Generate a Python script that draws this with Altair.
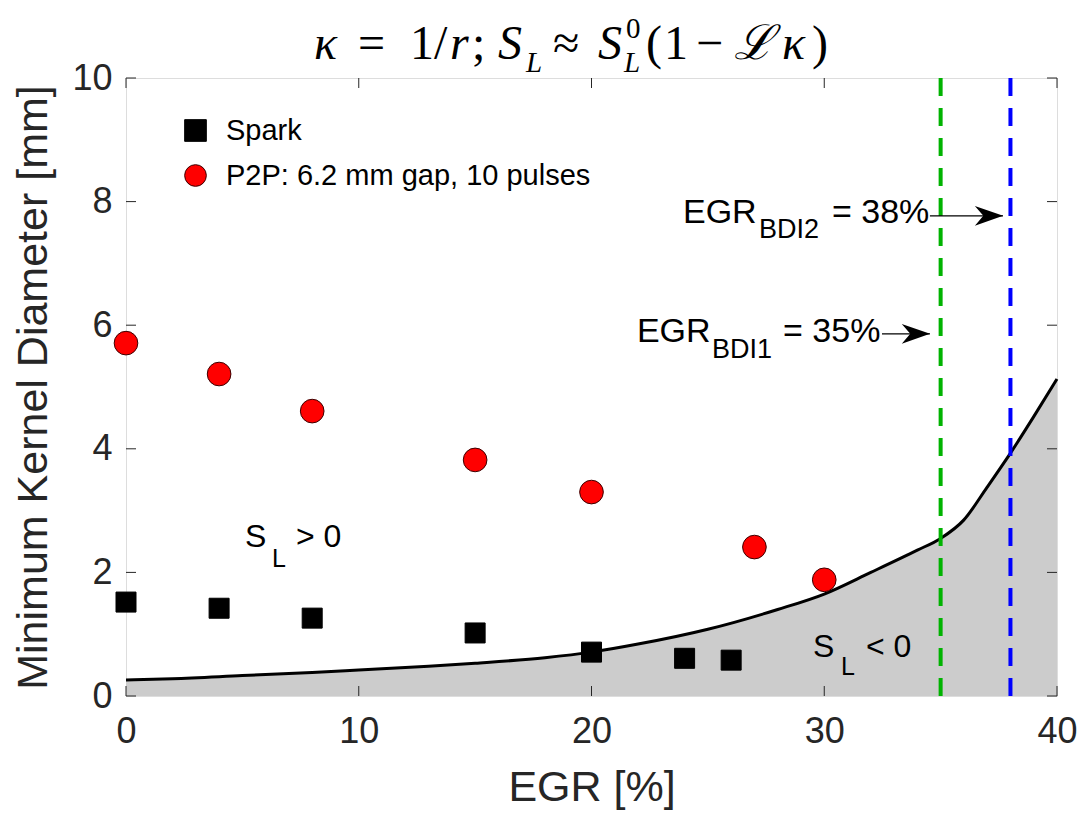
import altair as alt
import pandas as pd

# ---------------- data ----------------
spark_egr = [0, 4, 8, 15, 20, 24, 26]
spark_d = [1.52, 1.42, 1.26, 1.02, 0.71, 0.61, 0.58]

p2p_egr = [0, 4, 8, 15, 20, 27, 30]
p2p_d = [5.71, 5.21, 4.61, 3.82, 3.30, 2.41, 1.88]

curve_egr = [0, 2, 5, 8, 10, 13, 15, 18, 20, 22, 25, 28, 30, 32, 34, 35, 36, 37, 38, 39, 40]
curve_d = [0.26, 0.28, 0.33, 0.38, 0.42, 0.48, 0.53, 0.62, 0.71, 0.84, 1.08, 1.40, 1.65, 2.00, 2.36, 2.55, 2.85, 3.38, 3.93, 4.52, 5.13]

series_names = ["Spark", "P2P: 6.2 mm gap, 10 pulses"]

bdi_egr = [35, 38]
bdi_colors = ["#00b300", "#0000ff"]

x_ticks = [0, 10, 20, 30, 40]
y_ticks = [0, 2, 4, 6, 8, 10]

# annotation texts (anchor in data units)
ann_text = ["EGR", "BDI2", "= 38%", "EGR", "BDI1", "= 35%", "S", "L", "> 0", "S", "L", "< 0"]
ann_x = [23.93, 27.20, 30.33, 21.95, 25.18, 28.23, 5.11, 6.27, 7.30, 29.52, 30.72, 31.79]
ann_y = [7.65, 7.41, 7.65, 5.73, 5.47, 5.73, 2.41, 2.09, 2.41, 0.63, 0.34, 0.63]
ann_size = [34, 27, 34, 34, 27, 34, 32, 25, 32, 32, 25, 32]

# arrows (data units)
arrow_x1 = [34.54, 32.48]
arrow_x2 = [37.68, 34.54]
arrow_y = [7.77, 5.86]

# title pieces (pixel layout of the formula)
title_norm_text = ["=", "1/", ";", "≈", "(", "1", "−", ")"]
title_norm_x = [358, 410, 472, 553, 646, 664, 696, 812]
title_ital_text = ["κ", "r", "S", "S", "ℒ", "κ"]
title_ital_x = [314, 450, 498, 598, 734, 782]
title_sub_text = ["L", "L"]
title_sub_x = [526, 624]
title_sup_text = ["0"]
title_sup_x = [626]

W, H = 931, 618
FONT = "Liberation Sans"
AX = "#262626"

# ---------------- frames ----------------
pts = pd.DataFrame({
    "egr": spark_egr + p2p_egr,
    "d": spark_d + p2p_d,
    "series": [series_names[0]] * len(spark_egr) + [series_names[1]] * len(p2p_egr),
})
curve = pd.DataFrame({"egr": curve_egr, "d": curve_d})
bdi = pd.DataFrame({"egr": bdi_egr, "c": bdi_colors})
ann = pd.DataFrame({"t": ann_text, "x": ann_x, "y": ann_y, "s": ann_size})
arr = pd.DataFrame({"x1": arrow_x1, "x2": arrow_x2, "y": arrow_y})
xt = pd.DataFrame({"v": x_ticks})
yt = pd.DataFrame({"v": y_ticks})

xs = alt.Scale(domain=[0, 40], nice=False, zero=False)
ys = alt.Scale(domain=[0, 10], nice=False, zero=False)

x_axis = alt.Axis(values=x_ticks, grid=False, domain=False, ticks=False, format="d", labelFlush=False,
                  labelFont=FONT, labelFontSize=36, labelColor=AX, labelPadding=18,
                  title="EGR [%]", titleFont=FONT, titleFontSize=43, titleFontWeight="normal",
                  titleColor=AX, titlePadding=17)
y_axis = alt.Axis(values=y_ticks, grid=False, domain=False, ticks=False, format="d", labelFlush=False,
                  labelFont=FONT, labelFontSize=36, labelColor=AX, labelPadding=14,
                  title="Minimum Kernel Diameter [mm]", titleFont=FONT, titleFontSize=43,
                  titleFontWeight="normal", titleColor=AX, titlePadding=16)

area = alt.Chart(curve).mark_area(color="#cccccc", interpolate="monotone", opacity=1).encode(
    x=alt.X("egr:Q", scale=xs, axis=x_axis),
    y=alt.Y("d:Q", scale=ys, axis=y_axis),
)
line = alt.Chart(curve).mark_line(color="black", strokeWidth=3, interpolate="monotone").encode(
    x=alt.X("egr:Q", scale=xs), y=alt.Y("d:Q", scale=ys)
)
vlines = alt.Chart(bdi).mark_rule(strokeWidth=4, strokeDash=[18, 12]).encode(
    x=alt.X("egr:Q", scale=xs),
    y=alt.value(0), y2=alt.value(H),
    color=alt.Color("c:N", scale=None),
)

legend = alt.Legend(title=None, orient="none", legendX=55, legendY=38,
                    labelFont=FONT, labelFontSize=29, labelColor="black", labelLimit=600,
                    symbolSize=470, symbolStrokeWidth=1, rowPadding=15, labelOffset=16,
                    padding=0)
fill_enc = alt.Fill("series:N", scale=alt.Scale(domain=series_names, range=["black", "#ff0000"]), legend=legend)
stroke_enc = alt.Stroke("series:N", scale=alt.Scale(domain=series_names, range=["black", "#3a0000"]), legend=legend)
shape_enc = alt.Shape("series:N", scale=alt.Scale(domain=series_names, range=["square", "circle"]), legend=legend)

base_pts = alt.Chart(pts).encode(
    x=alt.X("egr:Q", scale=xs), y=alt.Y("d:Q", scale=ys),
    fill=fill_enc, stroke=stroke_enc, shape=shape_enc,
)
spark_layer = base_pts.transform_filter(alt.datum.series == series_names[0]).mark_point(
    filled=True, size=400, strokeWidth=1, opacity=1)
p2p_layer = base_pts.transform_filter(alt.datum.series == series_names[1]).mark_point(
    filled=True, size=560, strokeWidth=1, opacity=1)

texts = alt.Chart(ann).mark_text(align="left", baseline="alphabetic", font=FONT, color="black").encode(
    x=alt.X("x:Q", scale=xs), y=alt.Y("y:Q", scale=ys), text="t:N", size=alt.Size("s:Q", scale=None)
)
arrow_lines = alt.Chart(arr).mark_rule(color="black", strokeWidth=1.3).encode(
    x=alt.X("x1:Q", scale=xs), x2="x2:Q", y=alt.Y("y:Q", scale=ys)
)
arrow_heads = alt.Chart(arr).mark_point(
    shape="M1,0 L-1,-0.7 L-0.4,0 L-1,0.7 Z", size=800, filled=True, color="black", opacity=1, xOffset=-14
).encode(x=alt.X("x2:Q", scale=xs), y=alt.Y("y:Q", scale=ys))

# inside ticks (MATLAB style box)
tick_b = alt.Chart(xt).mark_rule(color=AX, strokeWidth=1).encode(
    x=alt.X("v:Q", scale=xs), y=alt.value(H), y2=alt.value(H - 10))
tick_t = alt.Chart(xt).mark_rule(color=AX, strokeWidth=1).encode(
    x=alt.X("v:Q", scale=xs), y=alt.value(0), y2=alt.value(10))
tick_l = alt.Chart(yt).mark_rule(color=AX, strokeWidth=1).encode(
    y=alt.Y("v:Q", scale=ys), x=alt.value(0), x2=alt.value(10))
tick_r = alt.Chart(yt).mark_rule(color=AX, strokeWidth=1).encode(
    y=alt.Y("v:Q", scale=ys), x=alt.value(W), x2=alt.value(W - 10))

# title formula (pixel layout relative to plot origin: left 126, top 78)
def tdf(texts_, xs_, base, size):
    return pd.DataFrame({"t": texts_, "px": [v - 126 for v in xs_], "py": [base - 78] * len(texts_), "s": [size] * len(texts_)})

tn = pd.concat([tdf(title_norm_text, title_norm_x, 59, 48), tdf(title_sup_text, title_sup_x, 38, 29)])
ti = pd.concat([tdf(title_ital_text, title_ital_x, 59, 48), tdf(title_sub_text, title_sub_x, 72, 29)])

title_n = alt.Chart(tn).mark_text(align="left", baseline="alphabetic", font="Liberation Serif", color="black").encode(
    x=alt.X("px:Q", scale=None), y=alt.Y("py:Q", scale=None), text="t:N", size=alt.Size("s:Q", scale=None))
title_i = alt.Chart(ti).mark_text(align="left", baseline="alphabetic", font="Liberation Serif", fontStyle="italic", color="black").encode(
    x=alt.X("px:Q", scale=None), y=alt.Y("py:Q", scale=None), text="t:N", size=alt.Size("s:Q", scale=None))

chart = alt.layer(
    area, line, vlines, spark_layer, p2p_layer, texts, arrow_lines, arrow_heads,
    tick_b, tick_t, tick_l, tick_r, title_n, title_i,
).properties(
    width=W, height=H,
    autosize=alt.AutoSizeParams(type="none"),
    padding={"left": 126, "top": 78, "right": 22, "bottom": 119},
).configure_view(
    stroke="#4d4d4d", strokeWidth=1.5
).configure(background="white")

chart.save("out.html", embed_options={"renderer": "svg", "actions": False})
